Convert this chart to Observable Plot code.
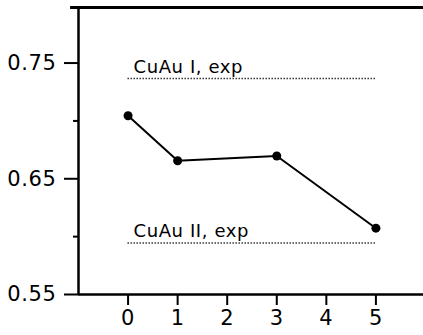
<!DOCTYPE html>
<html><head><meta charset="utf-8">
<script src="https://cdn.jsdelivr.net/npm/d3@7"></script>
<script src="https://cdn.jsdelivr.net/npm/@observablehq/plot@0.6"></script>
<style>body{margin:0;background:#fff} svg text{letter-spacing:0.6px}</style>
</head><body><div id="chart"></div>
<script>
const xs = [0, 1, 3, 5];
const ys = [0.7045, 0.6656, 0.6697, 0.6073];
const refNames = ["CuAu I, exp", "CuAu II, exp"];
const refValues = [0.7366, 0.5946];
const yMajorTicks = [0.55, 0.65, 0.75];
const yMinorTicks = [0.60, 0.70];
const xTicks = [0, 1, 2, 3, 4, 5];
const xDomain = [-1, 5.96];
const yDomain = [0.55, 0.798];

const pts = xs.map((x, i) => ({x, y: ys[i]}));
const refs = refNames.map((name, i) => ({name, y: refValues[i], x1: 0, x2: 5}));

const chart = Plot.plot({
  width: 423, height: 335,
  marginLeft: 78, marginRight: 0, marginTop: 7, marginBottom: 41,
  style: {fontFamily: "DejaVu Sans", background: "#fff", color: "#000"},
  x: {domain: xDomain},
  y: {domain: yDomain},
  marks: [
    Plot.ruleX([xDomain[0]], {stroke: "#000", strokeWidth: 2.5}),
    Plot.ruleY([yDomain[1]], {x1: -1.16, x2: xDomain[1], stroke: "#000", strokeWidth: 3}),
    Plot.ruleY([yDomain[0]], {stroke: "#000", strokeWidth: 2.5}),
    Plot.axisY({ticks: yMajorTicks, tickSize: 14, tickPadding: 8, strokeWidth: 2, fontSize: 21, tickFormat: d3.format(".2f"), label: null}),
    Plot.axisY({ticks: yMinorTicks, tickSize: 5, strokeWidth: 2, tickFormat: () => "", label: null}),
    Plot.axisX({ticks: xTicks, tickSize: 11, tickPadding: 5, strokeWidth: 2, fontSize: 21, tickFormat: d3.format("d"), label: null}),
    Plot.ruleY(refs, {y: "y", x1: "x1", x2: "x2", stroke: "#000", strokeWidth: 1.5, strokeDasharray: "1.2,1.8"}),
    Plot.text(refs, {x: 0.11, y: "y", text: "name", textAnchor: "start", lineAnchor: "bottom", dy: -6, fontSize: 18}),
    Plot.line(pts, {x: "x", y: "y", stroke: "#000", strokeWidth: 2}),
    Plot.dot(pts, {x: "x", y: "y", r: 4.5, fill: "#000", stroke: "none"})
  ]
});
document.getElementById("chart").appendChild(chart);
</script>
</body></html>
